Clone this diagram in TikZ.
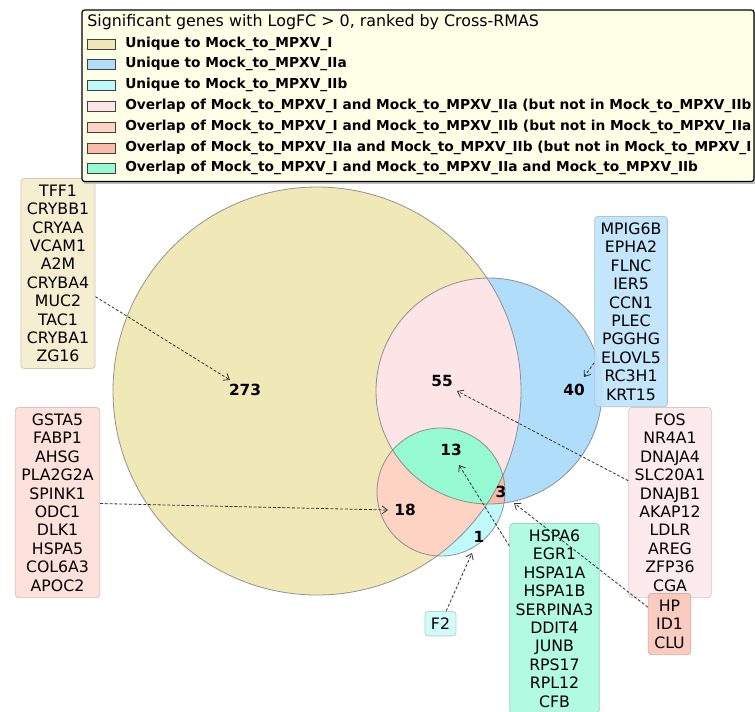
\documentclass[tikz,border=0pt]{standalone}
\usepackage{fontspec}
\setmainfont{DejaVu Sans}
\usetikzlibrary{arrows.meta}
\definecolor{cI}{RGB}{240,233,183}
\definecolor{cIIa}{RGB}{176,222,250}
\definecolor{cIIb}{RGB}{190,250,250}
\definecolor{cIa}{RGB}{253,228,230}
\definecolor{cIb}{RGB}{253,212,196}
\definecolor{cab}{RGB}{250,188,170}
\definecolor{call}{RGB}{150,250,210}
\definecolor{bI}{RGB}{244,237,203}
\definecolor{bIIa}{RGB}{190,228,252}
\definecolor{bIIb}{RGB}{205,250,250}
\definecolor{bIa}{RGB}{253,232,234}
\definecolor{bIb}{RGB}{253,222,214}
\definecolor{bab}{RGB}{250,198,185}
\definecolor{ball}{RGB}{170,250,222}
\definecolor{legbg}{RGB}{255,255,232}
\begin{document}
\begin{tikzpicture}[x=0.75pt,y=-0.75pt,
  circ/.style={draw=black!55,line width=0.6pt,draw opacity=0.75},
  genebox/.style={draw=#1!70!gray,fill=#1,fill opacity=0.9,text opacity=1,rounded corners=2.5pt,
     align=center,inner xsep=4.5pt,inner ysep=4.8pt,anchor=north,
     font=\fontsize{11.8}{13.8}\selectfont,line width=0.6pt},
  num/.style={font=\bfseries\fontsize{11.5}{13}\selectfont,inner sep=0pt},
  arr/.style={draw=black!80,line width=0.6pt,dash pattern=on 2.2pt off 1.4pt,
     -{Straight Barb[length=4pt,width=6pt]}},
  legtxt/.style={anchor=west,inner sep=0pt,font=\bfseries\fontsize{10.3}{12}\selectfont},
  legpatch/.style={draw=black!75,line width=0.6pt,fill=#1}
]
\clip (0,0) rectangle (755,711);
\fill[white] (0,0) rectangle (755,711);
% Venn regions
\fill[cI] (317,391) circle[radius=204];
\fill[cIIa] (489,391) circle[radius=113];
\fill[cIIb] (441,492) circle[radius=64];
\begin{scope}
  \clip (317,391) circle[radius=204];
  \fill[cIa] (489,391) circle[radius=113];
\end{scope}
\begin{scope}
  \clip (317,391) circle[radius=204];
  \fill[cIb] (441,492) circle[radius=64];
\end{scope}
\begin{scope}
  \clip (489,391) circle[radius=113];
  \fill[cab] (441,492) circle[radius=64];
\end{scope}
\begin{scope}
  \clip (317,391) circle[radius=204];
  \clip (489,391) circle[radius=113];
  \fill[call] (441,492) circle[radius=64];
\end{scope}
\draw[circ] (317,391) circle[radius=204];
\draw[circ] (489,391) circle[radius=113];
\draw[circ] (441,492) circle[radius=64];
% numbers
\node[num] (n273) at (245,390) {273};
\node[num] (n55) at (442,381) {55};
\node[num] (n40) at (574,390) {40};
\node[num] (n13) at (451,450) {13};
\node[num] (n18) at (405,510) {18};
\node[num] (n3) at (501,492) {3};
\node[num] (n1) at (479,537) {1};
% arrow tips
\coordinate (t1) at (230,380);
\coordinate (t2) at (388,510);
\coordinate (t3) at (584,377);
\coordinate (t4) at (457,391);
\coordinate (t5) at (514,503);
\coordinate (t6) at (459,465);
\coordinate (t7) at (472,553);
% gene boxes
\node[genebox=bI] (b1) at (58,178) {TFF1\\CRYBB1\\CRYAA\\VCAM1\\A2M\\CRYBA4\\MUC2\\TAC1\\CRYBA1\\ZG16};
\node[genebox=bIb] (b2) at (57.5,407) {GSTA5\\FABP1\\AHSG\\PLA2G2A\\SPINK1\\ODC1\\DLK1\\HSPA5\\COL6A3\\APOC2};
\node[genebox=bIIa] (b3) at (631,216) {MPIG6B\\EPHA2\\FLNC\\IER5\\CCN1\\PLEC\\PGGHG\\ELOVL5\\RC3H1\\KRT15};
\node[genebox=bIa] (b4) at (670,407) {FOS\\NR4A1\\DNAJA4\\SLC20A1\\DNAJB1\\AKAP12\\LDLR\\AREG\\ZFP36\\CGA};
\node[genebox=bab] (b5) at (669.5,593) {HP\\ID1\\CLU};
\node[genebox=ball] (b6) at (554.5,523) {HSPA6\\EGR1\\HSPA1A\\HSPA1B\\SERPINA3\\DDIT4\\JUNB\\RPS17\\RPL12\\CFB};
\node[genebox=bIIb] (b7) at (440.5,611) {F2};
% arrows
\draw[arr] (b1) -- (t1);
\draw[arr] (b2) -- (t2);
\draw[arr] (b3) -- (t3);
\draw[arr] (b4) -- (t4);
\draw[arr] (b5) -- (t5);
\draw[arr] (b6) -- (t6);
\draw[arr] (b7) -- (t7);
% legend
\fill[black!25] (84,12) rectangle (800,184);
\draw[fill=legbg,draw=black,line width=0.9pt,rounded corners=2pt] (82,10) rectangle (754,181.5);
\node[anchor=west,inner sep=0pt,font=\fontsize{11.9}{14}\selectfont] (lt) at (87,22) {Significant genes with LogFC > 0, ranked by Cross-RMAS};
\foreach \y/\c/\t [count=\i] in {
  44/cI/{Unique to Mock\_to\_MPXV\_I},
  64/cIIa/{Unique to Mock\_to\_MPXV\_IIa},
  85/cIIb/{Unique to Mock\_to\_MPXV\_IIb},
  106/cIa/{Overlap of Mock\_to\_MPXV\_I and Mock\_to\_MPXV\_IIa (but not in Mock\_to\_MPXV\_IIb )},
  127/cIb/{Overlap of Mock\_to\_MPXV\_I and Mock\_to\_MPXV\_IIb (but not in Mock\_to\_MPXV\_IIa )},
  148/cab/{Overlap of Mock\_to\_MPXV\_IIa and Mock\_to\_MPXV\_IIb (but not in Mock\_to\_MPXV\_I )},
  168/call/{Overlap of Mock\_to\_MPXV\_I and Mock\_to\_MPXV\_IIa and Mock\_to\_MPXV\_IIb}}{
  \draw[legpatch=\c] (87,\y-5) rectangle (115,\y+5);
  \node[legtxt] (l\i) at (125,\y) {\t};
}
\end{tikzpicture}
\end{document}
